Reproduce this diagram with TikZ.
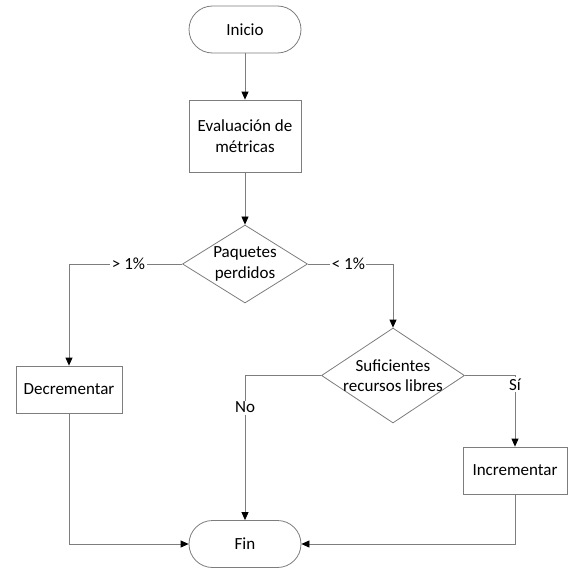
\documentclass[tikz,border=0pt]{standalone}
\usepackage{fontspec}
\setmainfont{Carlito}
\usetikzlibrary{arrows.meta,shapes.geometric}
\definecolor{linegray}{RGB}{125,125,125}
\begin{document}
\begin{tikzpicture}[x=1pt,y=-1pt,
  font=\fontsize{17}{20.5}\selectfont,
  every node/.style={text=black},
  terminal/.style={draw=linegray, line width=0.8pt, rectangle, rounded corners=23.5pt,
    minimum width=112pt, minimum height=47pt, inner sep=0pt},
  process/.style={draw=linegray, line width=0.8pt, rectangle, inner sep=0pt, align=center},
  decision/.style={draw=linegray, line width=0.8pt, diamond, inner sep=0pt},
  flow/.style={draw=linegray, line width=0.8pt, -{Triangle[length=8pt,width=7pt,color=black]}},
  plain/.style={draw=linegray, line width=0.8pt},
  tag/.style={fill=white, inner sep=1.5pt}]
\useasboundingbox (0,0) rectangle (571,570);

% nodes
\node[terminal] (inicio) at (245,29.5) {Inicio};
\node[process, minimum width=112pt, minimum height=72pt] (eval) at (245,136)
  {Evaluación de\\métricas};
\node[decision, minimum width=125pt, minimum height=78pt,
  label={[align=center]center:Paquetes\\perdidos}] (paq) at (245,264) {};
\node[decision, minimum width=143pt, minimum height=95pt,
  label={[align=center]center:Suficientes\\recursos libres}] (suf) at (393,375.5) {};
\node[process, minimum width=106pt, minimum height=47pt] (dec) at (69,389.5) {Decrementar};
\node[process, minimum width=104pt, minimum height=47pt] (inc) at (515,470.5) {Incrementar};
\node[terminal] (fin) at (245,544) {Fin};

% connectors
\draw[flow] (inicio) -- (eval);
\draw[flow] (eval) -- (paq);
\draw[flow] (paq.west) -| node[tag, pos=0.237] {> 1\%} (dec.north);
\draw[flow] (paq.east) -| node[tag, pos=0.238] {< 1\%} (suf.north);
\draw[flow] (suf.west) -| node[tag, pos=0.611] {No} (fin.north);
\draw[flow] (suf.east) -| node[tag, pos=0.565] {Sí} (inc.north);
\draw[flow] (dec.south) |- (fin.west);
\draw[flow] (inc.south) |- (fin.east);
\end{tikzpicture}
\end{document}
